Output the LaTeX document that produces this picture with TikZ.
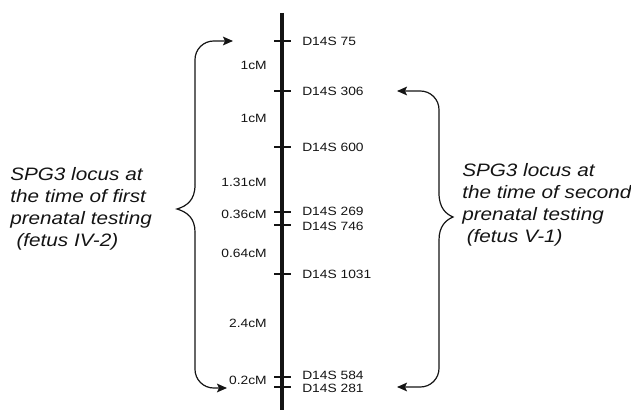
\documentclass[tikz,border=0pt]{standalone}
\usepackage{fontspec}
\usepackage{tikz}
\usetikzlibrary{arrows.meta, positioning, calc}
\newfontfamily\mapfont[FakeStretch=1.15]{Liberation Sans}
\definecolor{mapInk}{HTML}{141414}
\tikzset{
  marker/.style={anchor=west, inner sep=0pt, font=\mapfont\fontsize{9}{10}\selectfont, text=mapInk},
  dist/.style={anchor=east, inner sep=0pt, font=\mapfont\fontsize{9}{10}\selectfont, text=mapInk},
  locus/.style={anchor=north west, inner sep=0pt, align=left,
    font=\mapfont\itshape\fontsize{13.5}{16.5}\selectfont, text=mapInk},
  chrom/.style={line width=2.6pt, mapInk},
  tickmark/.style={line width=2.2pt, mapInk},
  bracket/.style={line width=0.9pt, mapInk},
  pointer/.style={bracket, -{Stealth[length=7.5pt, width=6.5pt, inset=1.5pt]}, rounded corners=14pt}
}
\begin{document}
\begin{tikzpicture}[x=0.75pt, y=-0.75pt]
  \useasboundingbox (0,0) rectangle (631,413);
  % chromosome axis
  \draw[chrom] (282,13) -- (282,410);
  % markers (tick y, label y)
  \foreach \name/\y/\ly/\lab in {m75/41/41/75, m306/91/91/306, m600/147/147/600,
      m269/212/211/269, m746/225/226/746, m1031/274/274/1031,
      m584/377/375.5/584, m281/387/388.5/281} {
    \draw[tickmark] (274,\y) -- (291,\y);
    \node[marker] (\name) at (302,\ly) {D14S \lab};
  }
  % intervals
  \foreach \y/\d in {65/1, 118/1, 182/1.31, 214/0.36, 253/0.64, 323/2.4, 380/0.2}
    \node[dist] (d\y) at (267,\y) {\d cM};
  % first testing
  \coordinate (ltip) at (177,209);
  \coordinate (lup) at (195,185);
  \coordinate (ldown) at (195,232);
  \coordinate (ltop) at (233,41);
  \coordinate (lbot) at (227,388);
  \draw[bracket] (lup) .. controls (195,200) and (187,206) .. (ltip)
    .. controls (187,212) and (195,218) .. (ldown);
  \draw[pointer] (lup) -- (195,41) -- (ltop);
  \draw[pointer] (ldown) -- (195,388) -- (lbot);
  \node[locus] (first) at (10,167) {SPG3 locus at\\the time of first\\prenatal testing\\\hspace*{0.35em}(fetus IV-2)};
  % second testing
  \coordinate (rtip) at (453,217);
  \coordinate (rup) at (439,193);
  \coordinate (rdown) at (439,240);
  \coordinate (rtop) at (397,91);
  \coordinate (rbot) at (397,387);
  \draw[bracket] (rup) .. controls (439,208) and (446,214) .. (rtip)
    .. controls (446,220) and (439,226) .. (rdown);
  \draw[pointer] (rup) -- (439,91) -- (rtop);
  \draw[pointer] (rdown) -- (439,387) -- (rbot);
  \node[locus] (second) at (462,163) {SPG3 locus at\\the time of second\\prenatal testing\\\hspace*{0.25em}(fetus V-1)};
\end{tikzpicture}
\end{document}
